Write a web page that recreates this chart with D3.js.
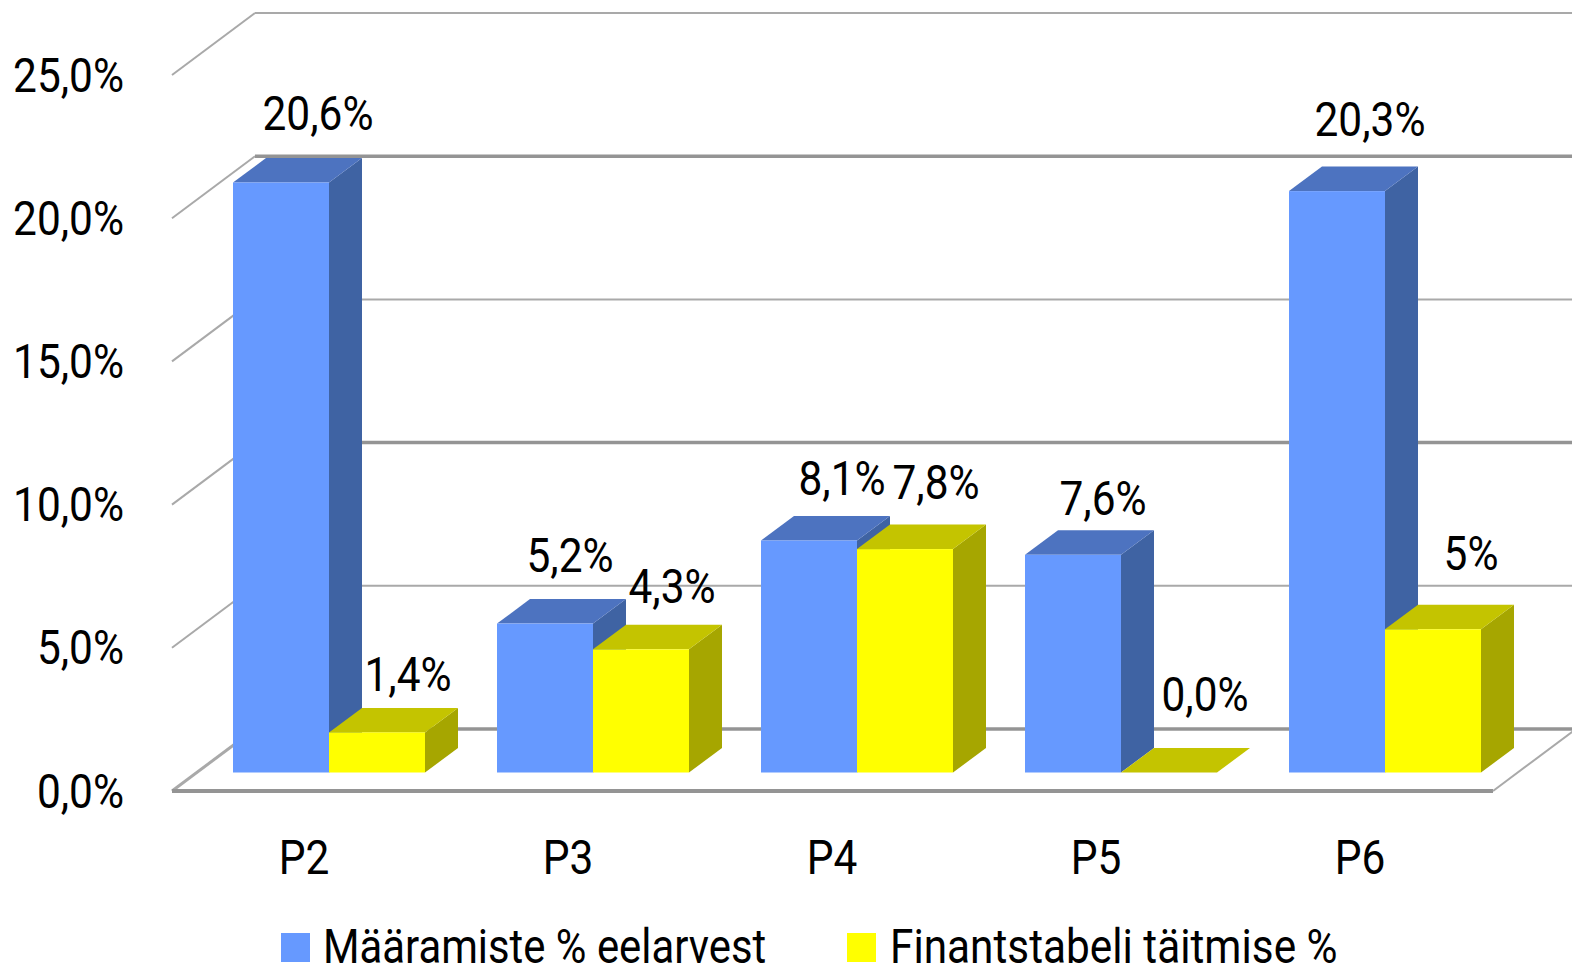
<!DOCTYPE html>
<html>
<head>
<meta charset="utf-8">
<script src="https://cdn.jsdelivr.net/npm/d3@7"></script>
<style>
html, body { margin: 0; padding: 0; background: #fff; overflow: hidden; }
text { font-family: Roboto, sans-serif; font-size: 48.5px; fill: #000; }
</style>
</head>
<body>
<div id="chart"></div>
<script>
var categories = ["P2", "P3", "P4", "P5", "P6"];
var seriesNames = ["Määramiste % eelarvest", "Finantstabeli täitmise %"];
var budgetPct = [20.6, 5.2, 8.1, 7.6, 20.3];
var tablePct = [1.4, 4.3, 7.8, 0.0, 5.0];
var budgetLabels = ["20,6%", "5,2%", "8,1%", "7,6%", "20,3%"];
var tableLabels = ["1,4%", "4,3%", "7,8%", "0,0%", "5%"];
var yTicks = [0, 5, 10, 15, 20, 25];

// label nudges away from the default spot, the original chart placed them by hand
var budgetNudge = [[6, -6], [-6, -5], [2, 1], [-1, 7], [2, -8]];
var tableNudge = [[0, 6], [0, 1], [0, -3], [5, -15], [7, -12]];

var width = 1572, height = 966;
var xScale = 0.875; // text in the original is narrower than Roboto

// wall goes back this far, bars stand part of the way in
var wallDx = 83, wallDy = -62;
var barDx = 61, barDy = -18.5;
var depthDx = 33, depthDy = -24.5;
var barW = 96;

var colors = [
    {front: "#6699ff", top: "#4d73c0", side: "#3f63a3"},
    {front: "#ffff00", top: "#c4c400", side: "#a6a600"}
];

var svg = d3.select("#chart").append("svg")
    .attr("width", width)
    .attr("height", height)
    .style("display", "block");

var x = d3.scaleBand().domain(categories).range([172, 1492]);
var y = d3.scaleLinear().domain([0, 25]).range([791, 75]);

// back wall and side lines
var grid = svg.append("g");
yTicks.forEach(function(t, i) {
    var strong = i % 2 == 0; // every other line comes out heavier in the original
    grid.append("path")
        .attr("d", "M" + x.range()[0] + "," + y(t) + "l" + wallDx + "," + wallDy)
        .attr("fill", "none")
        .attr("stroke", "#a9a9a9")
        .attr("stroke-width", t == 0 ? 3 : 2);
    grid.append("path")
        .attr("d", "M" + (x.range()[0] + wallDx) + "," + (y(t) + wallDy) + "H" + width)
        .attr("fill", "none")
        .attr("stroke", strong ? "#949494" : "#a9a9a9")
        .attr("stroke-width", strong ? 3.5 : 2);
});
// floor front edge and right side
grid.append("path")
    .attr("d", "M" + x.range()[0] + "," + y(0) + "H" + (x.range()[1] + 1))
    .attr("fill", "none")
    .attr("stroke", "#949494")
    .attr("stroke-width", 4);
grid.append("path")
    .attr("d", "M" + (x.range()[1] + 1) + "," + y(0) + "l" + wallDx + "," + wallDy)
    .attr("fill", "none")
    .attr("stroke", "#a9a9a9")
    .attr("stroke-width", 2);

function bar3d(g, x0, v, c) {
    var top = y(v) + barDy, base = y(0) + barDy;
    g.append("polygon")
        .attr("points", [[x0 + barW, top], [x0 + barW + depthDx, top + depthDy], [x0 + barW + depthDx, base + depthDy], [x0 + barW, base]].join(" "))
        .attr("fill", c.side);
    g.append("polygon")
        .attr("points", [[x0, top], [x0 + depthDx, top + depthDy], [x0 + barW + depthDx, top + depthDy], [x0 + barW, top]].join(" "))
        .attr("fill", c.top);
    g.append("rect")
        .attr("x", x0)
        .attr("y", top)
        .attr("width", barW)
        .attr("height", base - top)
        .attr("fill", c.front);
}

function squeezed(g, px, py, str, anchor, sx) {
    return g.append("text")
        .attr("transform", "translate(" + px + "," + py + ") scale(" + (sx || xScale) + ",1)")
        .attr("text-anchor", anchor || "middle")
        .text(str);
}

var bars = svg.append("g");
categories.forEach(function(cat, i) {
    var x0 = x(cat) + barDx;
    bar3d(bars, x0, budgetPct[i], colors[0]);
    bar3d(bars, x0 + barW, tablePct[i], colors[1]);
});

var labels = svg.append("g");
categories.forEach(function(cat, i) {
    var x0 = x(cat) + barDx;
    squeezed(labels, x0 + barW / 2 + 31 + budgetNudge[i][0], y(budgetPct[i]) + barDy - 47 + budgetNudge[i][1], budgetLabels[i]);
    squeezed(labels, x0 + barW * 1.5 + 31 + tableNudge[i][0], y(tablePct[i]) + barDy - 47 + tableNudge[i][1], tableLabels[i]);
});

// axes, only the text is kept
var yAxis = svg.append("g")
    .attr("transform", "translate(124,0)")
    .call(d3.axisLeft(y).tickValues(yTicks).tickSize(0).tickPadding(0)
        .tickFormat(function(d) { return d3.format(".1f")(d).replace(".", ",") + "%"; }));
yAxis.select(".domain").remove();
yAxis.selectAll("text")
    .attr("x", null).attr("dy", null)
    .attr("y", 16)
    .attr("text-anchor", "end")
    .attr("transform", "scale(" + xScale + ",1)");
yAxis.attr("font-family", null).attr("font-size", null);

var xAxis = svg.append("g")
    .attr("transform", "translate(0,873.5)")
    .call(d3.axisBottom(x).tickSize(0).tickPadding(0));
xAxis.select(".domain").remove();
xAxis.selectAll("text")
    .attr("y", 0).attr("dy", null)
    .attr("transform", "scale(" + xScale + ",1)");
xAxis.attr("font-family", null).attr("font-size", null);

// legend
var legendX = [281, 847];
var legendSquash = [0.863, 0.873];
seriesNames.forEach(function(name, i) {
    svg.append("rect")
        .attr("x", legendX[i])
        .attr("y", 933)
        .attr("width", 29)
        .attr("height", 29)
        .attr("fill", colors[i].front);
    squeezed(svg, legendX[i] + 42 + i, 963, name, "start", legendSquash[i]);
});
</script>
</body>
</html>
